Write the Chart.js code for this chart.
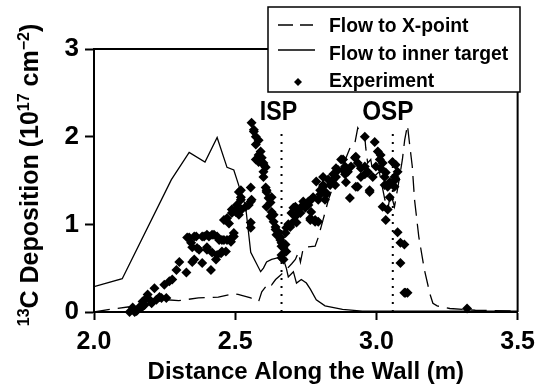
<!DOCTYPE html>
<html>
<head>
<meta charset="utf-8">
<script src="https://cdn.jsdelivr.net/npm/chart.js@4.4.0/dist/chart.umd.min.js"></script>
<style>
  html, body { margin: 0; padding: 0; background: #fff; }
</style>
</head>
<body>
<canvas id="c" width="542" height="390"></canvas>
<script>
// axis ticks
const xTicks = [2.0, 2.5, 3.0, 3.5];
const yTicks = [0, 1, 2, 3];

// strike point positions (m) and the height of their markers
const ispX = 2.664;
const ospX = 3.058;
const markerTop = 2.1;

// Flow to inner target (solid)
const innerX = [2.0, 2.10, 2.274, 2.337, 2.393, 2.436, 2.471, 2.495, 2.506, 2.537, 2.555, 2.59, 2.60, 2.611, 2.629, 2.653, 2.671,
  2.681, 2.688, 2.706, 2.717, 2.734, 2.752, 2.766, 2.787, 2.818, 2.88, 2.95, 3.2, 3.5];
const innerY = [0.29, 0.38, 1.51, 1.82, 1.71, 1.99, 1.65, 1.62, 1.51, 1.20, 0.68, 0.46, 0.50, 0.57, 0.60, 0.62, 0.60,
  0.50, 0.40, 0.46, 0.33, 0.37, 0.33, 0.26, 0.14, 0.07, 0.03, 0.01, 0.01, 0.01];

// Flow to X-point (dashed)
const xpointX = [2.0, 2.056, 2.126, 2.2, 2.256, 2.30, 2.37, 2.44, 2.495, 2.51, 2.555, 2.583, 2.594, 2.618, 2.629, 2.643, 2.66, 2.671,
  2.70, 2.713, 2.724, 2.731, 2.741, 2.752, 2.783, 2.794, 2.811, 2.83, 2.865, 2.88, 2.91, 2.924, 2.934, 2.945, 2.959, 2.962,
  2.969, 2.98, 2.99, 3.01, 3.03, 3.04, 3.05, 3.064, 3.08, 3.092, 3.10, 3.11, 3.117, 3.127, 3.135, 3.15, 3.17, 3.19, 3.20,
  3.215, 3.26, 3.35, 3.5];
const xpointY = [0.0, 0.03, 0.06, 0.10, 0.14, 0.13, 0.16, 0.17, 0.21, 0.20, 0.16, 0.12, 0.23, 0.33, 0.31, 0.37, 0.42, 0.45,
  0.55, 0.60, 0.68, 0.57, 0.73, 0.74, 0.75, 0.85, 1.05, 1.28, 1.60, 1.66, 1.90, 1.93, 2.10, 2.04, 2.00, 1.88,
  1.70, 1.74, 1.54, 1.60, 1.28, 1.16, 1.36, 1.20, 1.50, 1.74, 1.96, 2.13, 1.93, 1.66, 1.28, 0.86, 0.48, 0.20, 0.10,
  0.07, 0.04, 0.02, 0.01];

// Experiment
const expX = [2.126, 2.137, 2.144, 2.151, 2.162, 2.169, 2.172, 2.179, 2.186, 2.19, 2.197, 2.204, 2.214, 2.221, 2.232, 2.239,
  2.249, 2.256, 2.267, 2.277, 2.292, 2.302, 2.327, 2.33, 2.337, 2.344, 2.348, 2.348, 2.355, 2.355, 2.362, 2.365, 2.372,
  2.383, 2.383, 2.39, 2.40, 2.40, 2.40, 2.407, 2.414, 2.418, 2.418, 2.425, 2.432, 2.436, 2.436, 2.443, 2.45, 2.453, 2.453,
  2.46, 2.46, 2.467, 2.471, 2.471, 2.478, 2.485, 2.488, 2.488, 2.488, 2.495, 2.495, 2.502, 2.502, 2.506, 2.513, 2.513,
  2.52, 2.52, 2.52, 2.523, 2.537, 2.548, 2.555, 2.555, 2.555, 2.555, 2.558,
  2.558, 2.566, 2.566, 2.573, 2.573, 2.573, 2.583, 2.583, 2.583, 2.59, 2.594, 2.60, 2.60, 2.60, 2.608, 2.608, 2.611, 2.611,
  2.611, 2.618, 2.625, 2.625, 2.629, 2.629, 2.636, 2.636, 2.643, 2.643, 2.646, 2.653, 2.66, 2.66, 2.664, 2.664, 2.664,
  2.664, 2.671, 2.671, 2.678, 2.681, 2.60,
  2.678, 2.681, 2.688, 2.695, 2.699, 2.706, 2.706, 2.713, 2.713, 2.717, 2.724, 2.731, 2.734, 2.741, 2.748, 2.759, 2.759,
  2.766, 2.766, 2.769, 2.769, 2.776, 2.783, 2.783, 2.787, 2.794, 2.794, 2.801, 2.801, 2.811, 2.811, 2.811, 2.818, 2.822,
  2.822, 2.829, 2.836, 2.847, 2.847, 2.854, 2.857, 2.857, 2.864, 2.875, 2.882, 2.882, 2.889, 2.889, 2.892, 2.899, 2.906,
  2.91, 2.924, 2.927, 2.927, 2.934, 2.934, 2.945, 2.945, 2.959, 2.959, 2.959, 2.969, 2.969, 2.976, 2.976, 2.987, 2.994,
  2.998, 3.005, 3.012, 3.015, 3.015, 3.022, 3.022, 3.029, 3.029, 3.033, 3.033, 3.04, 3.04, 3.047, 3.047, 3.05, 3.057,
  3.064, 3.064, 3.068, 3.068, 3.075, 3.075, 3.085, 3.085, 3.099, 3.099, 3.103, 3.11, 3.321];
const expY = [0.00, 0.05, 0.00, 0.01, 0.06, 0.05, 0.12, 0.08, 0.16, 0.20, 0.14, 0.10, 0.27, 0.14, 0.17, 0.16,
  0.31, 0.16, 0.35, 0.37, 0.48, 0.57, 0.45, 0.85, 0.85, 0.79, 0.57, 0.74, 0.60, 0.86, 0.86, 0.73, 0.71,
  0.56, 0.86, 0.86, 0.71, 0.88, 0.74, 0.86, 0.48, 0.88, 0.68, 0.88, 0.60, 0.86, 0.65, 0.82, 0.67, 0.82, 0.69,
  0.82, 1.05, 0.69, 0.82, 1.07, 1.01, 0.80, 0.85, 1.13, 1.17, 0.90, 0.86, 1.17, 1.14, 1.22, 1.11, 1.37,
  1.39, 1.31, 1.28, 1.17, 1.20, 1.22, 1.42, 1.02, 0.96, 1.26, 1.28,
  2.16, 2.08, 2.06, 2.00, 1.91, 1.74, 1.96, 1.79, 1.71, 1.83, 1.76, 1.70, 1.68, 1.60, 1.65, 1.42, 1.37, 1.39,
  1.20, 1.30, 1.25, 1.09, 1.14, 1.31, 1.03, 1.11, 0.97, 0.94, 0.88, 0.91, 0.85, 0.82, 0.79, 0.75, 0.65,
  0.62, 0.73, 0.60, 0.77, 0.69, 1.54,
  0.90, 0.96, 1.00, 0.97, 1.13, 1.03, 1.19, 1.20, 1.09, 1.02, 1.14, 1.13, 1.20, 1.26, 1.19, 1.22, 1.26,
  1.07, 1.05, 1.28, 1.14, 1.31, 1.03, 1.05, 1.49, 1.03, 1.28, 1.34, 1.39, 1.54, 1.43, 1.45, 1.28, 1.36,
  1.34, 1.51, 1.45, 1.51, 1.57, 1.45, 1.54, 1.64, 1.62, 1.74, 1.74, 1.62, 1.66, 1.57, 1.48, 1.60, 1.30,
  1.66, 1.76, 1.77, 1.43, 1.70, 1.43, 1.54, 1.64, 2.00, 1.66, 1.57, 1.59, 1.60, 1.37, 1.39, 1.54, 1.94,
  1.66, 1.83, 1.74, 1.79, 1.64, 1.70, 1.20, 1.54, 1.45, 1.59, 1.05, 1.43, 1.17, 1.31, 1.48, 1.47, 1.71,
  1.54, 1.43, 1.68, 1.51, 1.60, 0.91, 0.79, 0.56, 0.77, 0.22, 0.22, 0.22, 0.04];

const FONT = "'Liberation Sans', Arial, sans-serif";

function pts(xs, ys) {
  return xs.map((x, i) => ({ x: x, y: ys[i] }));
}

// text squeezed horizontally, the original uses a narrow face
function narrowText(ctx, text, x, y, sx, align) {
  const w = ctx.measureText(text).width * sx;
  let left = x;
  if (align === 'center') left = x - w / 2;
  ctx.save();
  ctx.translate(left, y);
  ctx.scale(sx, 1);
  ctx.textAlign = 'left';
  ctx.fillText(text, 0, 0);
  ctx.restore();
}

// frame, strike point labels, legend box and the y title with superscripts
const decor = {
  id: 'decor',
  afterDraw(chart) {
    const ctx = chart.ctx;
    const a = chart.chartArea;
    const xs = chart.scales.x;
    ctx.save();
    ctx.strokeStyle = '#000';
    ctx.lineWidth = 2;
    ctx.beginPath();
    ctx.moveTo(a.left, a.top);
    ctx.lineTo(a.right, a.top);
    ctx.lineTo(a.right, a.bottom);
    ctx.stroke();

    ctx.fillStyle = '#000';
    ctx.textBaseline = 'alphabetic';
    ctx.font = 'bold 27px ' + FONT;
    narrowText(ctx, 'ISP', xs.getPixelForValue(ispX) - 3, 120, 0.86, 'center');
    narrowText(ctx, 'OSP', xs.getPixelForValue(ospX) - 5, 120, 0.9, 'center');

    // legend
    const lx = 268, ly = 7, lw = 252, lh = 85;
    ctx.fillStyle = '#fff';
    ctx.fillRect(lx, ly, lw, lh);
    ctx.lineWidth = 1.5;
    ctx.strokeRect(lx, ly, lw, lh);
    ctx.fillStyle = '#000';
    ctx.beginPath();
    ctx.moveTo(278, 25); ctx.lineTo(293, 25);
    ctx.moveTo(300, 25); ctx.lineTo(313, 25);
    ctx.moveTo(278, 50); ctx.lineTo(315, 50);
    ctx.stroke();
    ctx.beginPath();
    ctx.moveTo(298, 78); ctx.lineTo(302, 82); ctx.lineTo(298, 86); ctx.lineTo(294, 82);
    ctx.closePath();
    ctx.fill();
    ctx.font = 'bold 21px ' + FONT;
    narrowText(ctx, 'Flow to X-point', 329, 32, 0.92, 'left');
    narrowText(ctx, 'Flow to inner target', 329, 60, 0.92, 'left');
    narrowText(ctx, 'Experiment', 329, 87, 0.92, 'left');

    // y title
    const parts = [
      { t: '13', sup: true }, { t: 'C Deposition (10' }, { t: '17', sup: true },
      { t: ' cm' }, { t: '\u22122', sup: true }, { t: ')' }
    ];
    const big = 'bold 25px ' + FONT, small = 'bold 16px ' + FONT;
    let total = 0;
    parts.forEach(p => { ctx.font = p.sup ? small : big; p.w = ctx.measureText(p.t).width; total += p.w; });
    ctx.translate(29, 175);
    ctx.rotate(-Math.PI / 2);
    let cx = -total / 2;
    parts.forEach(p => {
      ctx.font = p.sup ? small : big;
      ctx.fillText(p.t, cx, p.sup ? 0 : 9);
      cx += p.w;
    });
    ctx.restore();
  }
};

new Chart(document.getElementById('c'), {
  type: 'scatter',
  data: {
    datasets: [
      {
        label: 'Experiment',
        data: pts(expX, expY),
        pointStyle: 'rectRot',
        pointRadius: 5,
        pointBorderWidth: 0,
        backgroundColor: '#000',
        borderColor: '#000',
        clip: false
      },
      {
        label: 'Flow to inner target',
        data: pts(innerX, innerY),
        showLine: true,
        pointRadius: 0,
        borderColor: '#000',
        borderWidth: 1.3,
        tension: 0
      },
      {
        label: 'Flow to X-point',
        data: pts(xpointX, xpointY),
        showLine: true,
        pointRadius: 0,
        borderColor: '#000',
        borderWidth: 1.3,
        borderDash: [16, 8],
        tension: 0
      },
      {
        label: 'ISP',
        data: [{ x: ispX, y: 0 }, { x: ispX, y: markerTop }],
        showLine: true,
        pointRadius: 0,
        borderColor: '#000',
        borderWidth: 2,
        borderDash: [2, 6]
      },
      {
        label: 'OSP',
        data: [{ x: ospX, y: 0 }, { x: ospX, y: markerTop }],
        showLine: true,
        pointRadius: 0,
        borderColor: '#000',
        borderWidth: 2,
        borderDash: [2, 6]
      }
    ]
  },
  options: {
    responsive: false,
    animation: false,
    devicePixelRatio: 1,
    layout: { padding: { top: 49, right: 21, left: 0, bottom: 0 } },
    plugins: {
      legend: { display: false },
      tooltip: { enabled: false }
    },
    scales: {
      x: {
        type: 'linear',
        min: 2.0,
        max: 3.5,
        afterFit: s => { s.height = 78; },
        afterBuildTicks: s => { s.ticks = xTicks.map(v => ({ value: v })); },
        ticks: {
          color: '#000',
          font: { family: FONT, size: 25, weight: 'bold' },
          padding: 7,
          maxRotation: 0,
          callback: v => v.toFixed(1)
        },
        grid: { drawOnChartArea: false, tickLength: 8, tickWidth: 2, tickColor: '#000' },
        border: { color: '#000', width: 2 },
        title: {
          display: true,
          text: 'Distance Along the Wall (m)',
          color: '#000',
          font: { family: FONT, size: 24, weight: 'bold' },
          padding: { top: 4, bottom: 3 }
        }
      },
      y: {
        min: 0,
        max: 3,
        afterFit: s => { s.width = 94; },
        afterBuildTicks: s => { s.ticks = yTicks.map(v => ({ value: v })); },
        ticks: {
          color: '#000',
          font: { family: FONT, size: 26, weight: 'bold' },
          padding: 6,
          callback: v => String(v)
        },
        grid: { drawOnChartArea: false, tickLength: 9, tickWidth: 2, tickColor: '#000' },
        border: { color: '#000', width: 2 }
      }
    }
  },
  plugins: [decor]
});
</script>
</body>
</html>
